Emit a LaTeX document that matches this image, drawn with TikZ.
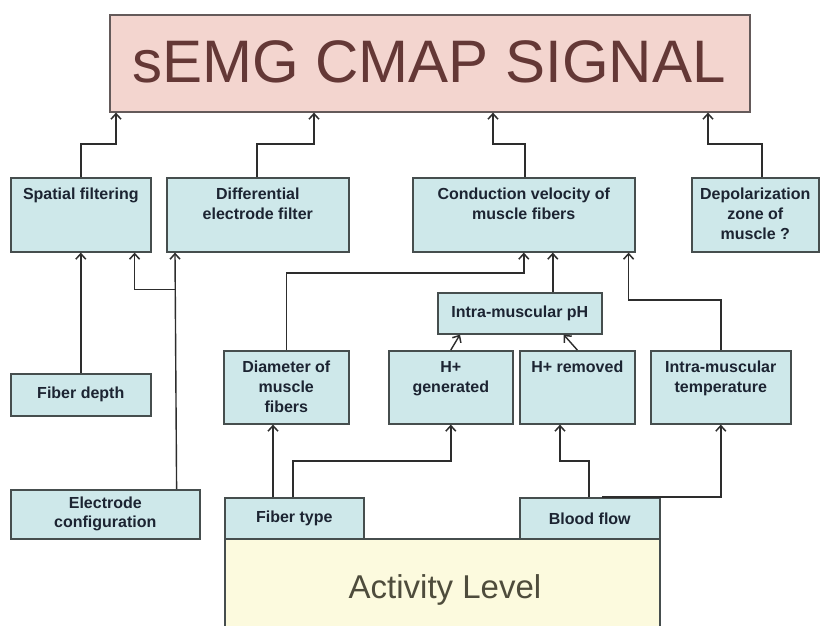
\documentclass[tikz,border=0pt]{standalone}
\usepackage{fontspec}
\setmainfont{Liberation Sans}
\usetikzlibrary{arrows.meta,calc}
\definecolor{boxfill}{RGB}{206,232,234}
\definecolor{boxdraw}{RGB}{70,78,78}
\definecolor{txtc}{RGB}{28,36,50}
\definecolor{titlefill}{RGB}{243,213,207}
\definecolor{titledraw}{RGB}{100,90,90}
\definecolor{titletxt}{RGB}{100,56,54}
\definecolor{actfill}{RGB}{252,250,222}
\definecolor{acttxt}{RGB}{78,76,60}
\definecolor{linec}{RGB}{45,45,45}
\begin{document}
\begin{tikzpicture}[x=1pt,y=-1pt,
 box/.style={draw=boxdraw, line width=1.6pt, fill=boxfill, anchor=north west, inner sep=0pt,
   text=txtc, font=\fontsize{16}{19}\selectfont\bfseries, align=center},
 txt/.style={inner sep=0pt, text=txtc, font=\fontsize{16}{20}\selectfont\bfseries, align=center, anchor=north},
 conn/.style={draw=linec, line width=1.4pt, -{Straight Barb[length=5.5pt,width=10pt,line width=1.5pt]}}
]
\useasboundingbox (0,0) rectangle (823,625);
\fill[white] (0,0) rectangle (823,625);

% title
\node[box, draw=titledraw, fill=titlefill, minimum width=640pt, minimum height=97pt] (title) at (109,14) {};
\node[inner sep=0pt, text=titletxt, font=\fontsize{60}{60}\selectfont] (title-t) at (429,62) {sEMG CMAP SIGNAL};

% row 2
\node[box, minimum width=140pt, minimum height=74pt] (spatial) at (10,177) {};
\node[box, minimum width=182pt, minimum height=74pt] (diff) at (166,177) {};
\node[box, minimum width=222pt, minimum height=74pt] (cond) at (412,177) {};
\node[box, minimum width=127pt, minimum height=74pt] (depol) at (691,177) {};
\node[txt] (spatial-t) at ($(spatial.north)+(0,11)$) {Spatial filtering};
\node[txt] (diff-t) at ($(diff.north)+(0,11)$) {Differential\\electrode filter};
\node[txt] (cond-t) at ($(cond.north)+(0,11)$) {Conduction velocity of\\muscle fibers};
\node[txt] (depol-t) at ($(depol.north)+(0,11)$) {Depolarization\\zone of\\muscle ?};

% middle
\node[box, minimum width=164pt, minimum height=41pt] (ph) at (437,292) {Intra-muscular pH};
\node[box, minimum width=140pt, minimum height=42pt] (fdepth) at (10,373) {Fiber depth};
\node[box, minimum width=125pt, minimum height=73pt] (diam) at (223,350) {};
\node[box, minimum width=124pt, minimum height=73pt] (hgen) at (388,350) {};
\node[box, minimum width=115pt, minimum height=73pt] (hrem) at (519,350) {};
\node[box, minimum width=140pt, minimum height=73pt] (temp) at (650,350) {};
\node[txt] (diam-t) at ($(diam.north)+(0,11)$) {Diameter of\\muscle\\fibers};
\node[txt] (hgen-t) at ($(hgen.north)+(0,11)$) {H+\\generated};
\node[txt] (hrem-t) at ($(hrem.north)+(0,11)$) {H+ removed};
\node[txt] (temp-t) at ($(temp.north)+(0,11)$) {Intra-muscular\\temperature};

% bottom
\node[box, minimum width=189pt, minimum height=49pt] (econf) at (10,489) {Electrode\\configuration};
\node[box, fill=actfill, minimum width=435pt, minimum height=100pt] (act) at (224,538) {};
\node[inner sep=0pt, text=acttxt, font=\fontsize{33}{33}\selectfont] (act-t) at (445,590) {Activity Level};
\node[box, minimum width=139pt, minimum height=41pt] (fibt) at (224,497) {Fiber type};
\node[box, minimum width=140pt, minimum height=41pt] (blood) at (519,497) {Blood flow};

% connectors to title
\draw[conn] (spatial.north) -- ++(0,-33) -| ($(title.south west)+(7,0)$);
\draw[conn] ($(diff.north)+(-1,0)$) -- ++(0,-33) -| ($(title.south west)+(205,0)$);
\draw[conn] ($(cond.north)+(1,0)$) -- ++(0,-33) -| ($(title.south west)+(384,0)$);
\draw[conn] ($(depol.north)+(6.5,0)$) -- ++(0,-33) -| ($(title.south west)+(599,0)$);

% left side
\draw[conn] (fdepth.north) -- (spatial.south);
\draw[conn] ($(econf.north east)+(-24,0)$) -- ($(diff.south west)+(9,0)$);
\coordinate (j1) at ($(diff.south west)+(9,37)$);
\draw[conn] (j1) -| ($(spatial.south east)+(-17,0)$);

% into conduction velocity
\draw[conn] (diam.north) -- ++(0,-77) -| (cond.south);
\draw[conn] ($(ph.north)+(33,0)$) -- ($(cond.south)+(29,0)$);
\draw[conn] (temp.north) -- ++(0,-50) -| ($(cond.south east)+(-7,0)$);

% into pH
\draw[conn] (hgen.north) -- ($(ph.south west)+(23,0)$);
\draw[conn] (hrem.north) -- ($(ph.south east)+(-39,0)$);

% from fiber type and blood flow
\draw[conn] ($(fibt.north west)+(49,0)$) -- ($(diam.south west)+(50,0)$);
\draw[conn] ($(fibt.north west)+(69,0)$) -- ++(0,-36) -| (hgen.south);
\draw[conn] ($(blood.north west)+(70,0)$) -- ++(0,-36) -| ($(hrem.south west)+(41,0)$);
\draw[conn] ($(blood.north west)+(83,0)$) -| (temp.south);
\end{tikzpicture}
\end{document}
